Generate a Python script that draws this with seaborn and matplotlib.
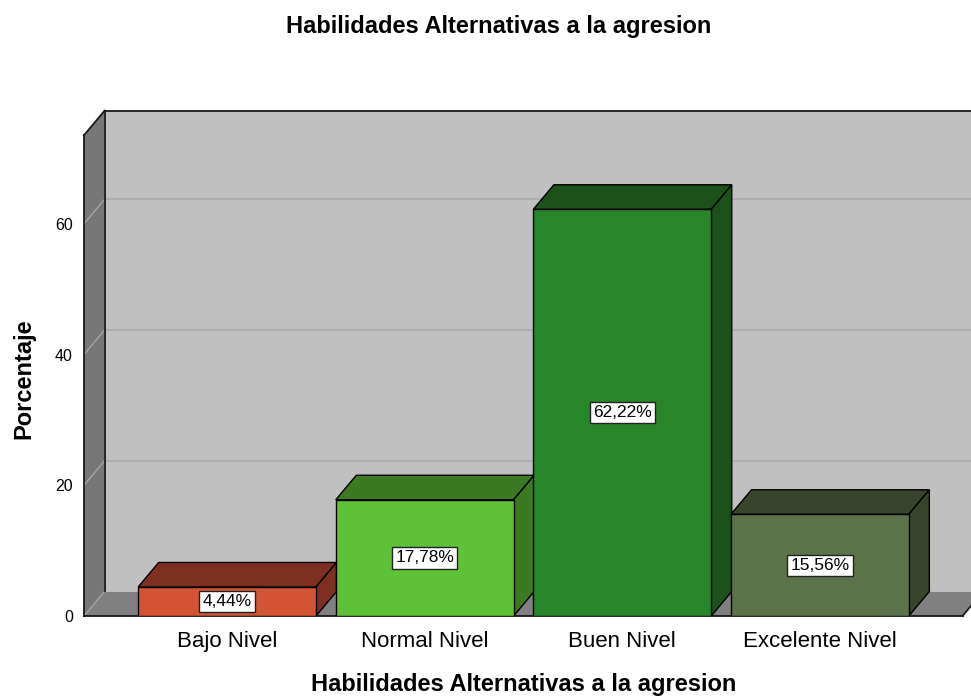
import matplotlib
matplotlib.use("Agg")
import numpy as np
import pandas as pd
from matplotlib import pyplot as plt
from matplotlib.patches import Polygon
import seaborn as sns

# datos del grafico
categorias = ["Bajo Nivel", "Normal Nivel", "Buen Nivel", "Excelente Nivel"]
porcentajes = [4.44, 17.78, 62.22, 15.56]
etiquetas = ["4,44%", "17,78%", "62,22%", "15,56%"]
colores_frente = ["#d25432", "#5ec238", "#27862a", "#5c7249"]
colores_techo = ["#7f2f1f", "#3b7a23", "#1b5219", "#38442b"]
titulo = "Habilidades Alternativas a la agresion"

sns.set_style("white")
plt.rcParams["font.family"] = ["Liberation Sans", "DejaVu Sans"]
plt.rcParams.update({"text.color": "black", "axes.labelcolor": "black",
                     "xtick.color": "black", "ytick.color": "black"})

W, H = 971, 700
fig = plt.figure(figsize=(W / 100, H / 100), dpi=100)

# ejes en pixeles: frente izquierdo x=84, cero en y=616
x_left_px, x_right_px = 84, 983.3
y_bot_px, y_top_px = 616, 110.7
ax = fig.add_axes([x_left_px / W, 1 - y_bot_px / H,
                   (x_right_px - x_left_px) / W, (y_bot_px - y_top_px) / H])

xl, xr = -0.724, 3.722          # plano frontal
dx, dy = 0.104, 3.75            # profundidad 3D
ytop = 77.3

df = pd.DataFrame({"cat": categorias, "pct": porcentajes})
sns.barplot(data=df, x="cat", y="pct", hue="cat", palette=colores_frente,
            width=0.9, edgecolor="black", linewidth=1.0, legend=False,
            saturation=1, ax=ax, zorder=5)

# pared de fondo, piso y pared izquierda
ax.add_patch(Polygon([(xl + dx, dy), (xr + dx, dy), (xr + dx, ytop), (xl + dx, ytop)],
                     closed=True, facecolor="#c0c0c0", edgecolor="none", zorder=0))
ax.add_patch(Polygon([(xl, 0), (xr, 0), (xr + dx, dy), (xl + dx, dy)],
                     closed=True, facecolor="#808080", edgecolor="none", zorder=1, clip_on=False))
ax.add_patch(Polygon([(xl, 0), (xl, ytop - dy), (xl + dx, ytop), (xl + dx, dy)],
                     closed=True, facecolor="#777777", edgecolor="none", zorder=1, clip_on=False))

for v in [20, 40, 60]:
    ax.plot([xl + dx, xr + dx], [v + dy, v + dy], color="#ababab", lw=1.2, zorder=0.5)
for v in [0, 20, 40, 60]:
    ax.plot([xl, xl + dx], [v, v + dy], color="#a4a4a4", lw=1.0, zorder=2, clip_on=False)

k = dict(color="#1a1a1a", lw=1.3, zorder=2, clip_on=False, solid_capstyle="projecting")
ax.plot([xl, xl], [0, ytop - dy], **k)
ax.plot([xl, xl + dx], [ytop - dy, ytop], **k)
ax.plot([xl + dx, xl + dx], [dy, ytop], **k)
ax.plot([xl + dx, xr + dx], [ytop, ytop], **k)
ax.plot([xl, xr], [0, 0], **k)
ax.plot([xr, xr + dx], [0, dy], **k)

# caras superior y lateral de cada barra
for i, p in enumerate(ax.patches[:len(categorias)]):
    x0, w, h = p.get_x(), p.get_width(), p.get_height()
    x1 = x0 + w
    top = Polygon([(x0, h), (x1, h), (x1 + dx, h + dy), (x0 + dx, h + dy)], closed=True,
                  facecolor=colores_techo[i], edgecolor="black", lw=1.0, zorder=4)
    side = Polygon([(x1, 0), (x1, h), (x1 + dx, h + dy), (x1 + dx, dy)], closed=True,
                   facecolor=colores_techo[i], edgecolor="black", lw=1.0, zorder=4)
    ax.add_patch(top)
    ax.add_patch(side)
    ax.text(x0 + w / 2, h / 2, etiquetas[i], ha="center", va="center", fontsize=12.5,
            zorder=6, bbox=dict(boxstyle="square,pad=0.18", facecolor="white",
                                edgecolor="#222222", lw=1.0))

ax.set_xlim(xl, xr + dx + 0.001)
ax.set_ylim(0, ytop)
sns.despine(ax=ax, left=True, bottom=True)
ax.set_yticks([0, 20, 40, 60])
ax.set_yticklabels(["0", "20", "40", "60"], fontsize=11.5)
ax.tick_params(axis="y", length=0, pad=8)
ax.tick_params(axis="x", length=0, pad=11, labelsize=16)
ax.grid(False)

ax.set_xlabel(titulo, fontsize=17, fontweight="bold")
ax.xaxis.set_label_coords((523.5 - x_left_px) / (x_right_px - x_left_px), -0.112)
ax.set_ylabel("Porcentaje", fontsize=17, fontweight="bold")
ax.yaxis.set_label_coords((35 - x_left_px) / (x_right_px - x_left_px), 0.469)

fig.text(499 / W, 1 - 27 / H, titulo, ha="center", va="center",
         fontsize=17, fontweight="bold")

fig.savefig("out.png", dpi=100)
